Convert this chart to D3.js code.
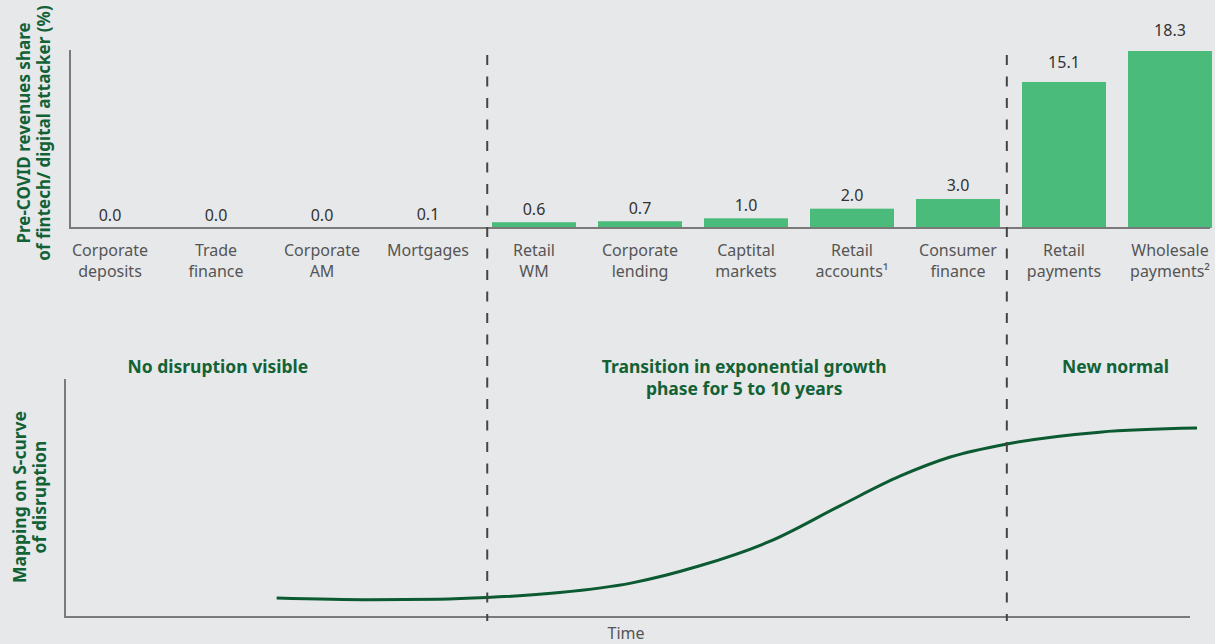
<!DOCTYPE html>
<html>
<head>
<meta charset="utf-8">
<script src="https://cdn.jsdelivr.net/npm/d3@7"></script>
<style>
  body { margin: 0; background: #e7e8ea; }
  svg { display: block; font-family: "Noto Sans", sans-serif; }
</style>
</head>
<body>
<main></main>
<script>
// bar chart: share of revenues per product
const categories = [
    'Corporate\ndeposits', 'Trade\nfinance', 'Corporate\nAM', 'Mortgages',
    'Retail\nWM', 'Corporate\nlending', 'Captital\nmarkets', 'Retail\naccounts\u00b9',
    'Consumer\nfinance', 'Retail\npayments', 'Wholesale\npayments\u00b2'
];
const shares = [0.0, 0.0, 0.0, 0.1, 0.6, 0.7, 1.0, 2.0, 3.0, 15.1, 18.3];

// s-curve (time 0-100, level 0-100)
const timeSteps = [18.7, 27, 33, 37.3, 43.7, 50, 56, 62.3, 68.5, 73.8, 78.2, 83.2, 91.4, 100];
const disruption = [8.0, 7.3, 7.5, 8.2, 10.3, 14.3, 21.5, 32, 47, 59.5, 67.5, 73, 78, 79.7];

const phaseNames = [
    ['No disruption visible'],
    ['Transition in exponential growth', 'phase for 5 to 10 years'],
    ['New normal']
];
const phaseCentres = [13.5, 60, 92.8];
const phaseBreaks = [37.3, 83.2];

const green = '#4bbb7c';
const darkGreen = '#0b5a32';
const titleGreen = '#126236';

const svg = d3.select('main')
    .append('svg')
    .attr('width', 1215)
    .attr('height', 644);

// ---- top chart
const xBand = d3.scaleBand()
    .domain(categories)
    .range([68, 1212])
    .paddingInner(0.2075)
    .paddingOuter(0);

const yShare = d3.scaleLinear()
    .domain([0, 18.3])
    .range([228, 51]);

svg.selectAll('.bar')
    .data(shares)
    .enter()
    .append('rect')
    .attr('class', 'bar')
    .attr('x', (d, i) => xBand(categories[i]))
    .attr('y', (d) => yShare(d))
    .attr('width', xBand.bandwidth())
    .attr('height', (d) => yShare(0) - yShare(d))
    .attr('fill', green);

svg.selectAll('.val')
    .data(shares)
    .enter()
    .append('text')
    .attr('class', 'val')
    .attr('x', (d, i) => xBand(categories[i]) + xBand.bandwidth() / 2)
    .attr('y', (d) => yShare(d) - 7 - d * 0.45)
    .attr('text-anchor', 'middle')
    .attr('font-size', 16)
    .attr('fill', '#333')
    .text((d) => d.toFixed(1));

const catLabels = svg.selectAll('.cat')
    .data(categories)
    .enter()
    .append('text')
    .attr('class', 'cat')
    .attr('text-anchor', 'middle')
    .attr('font-size', 16)
    .attr('fill', '#555');

catLabels.selectAll('tspan')
    .data((d) => d.split('\n').map((t) => ({ t: t, c: d })))
    .enter()
    .append('tspan')
    .attr('x', (d) => xBand(d.c) + xBand.bandwidth() / 2)
    .attr('y', (d, i) => 256 + i * 21)
    .text((d) => d.t);

// axes lines
svg.append('path')
    .attr('d', 'M70,50V228H1210')
    .attr('fill', 'none')
    .attr('stroke', '#7a7a7a')
    .attr('stroke-width', 2);

// ---- bottom chart
const xTime = d3.scaleLinear()
    .domain([0, 100])
    .range([65, 1197]);

const yLevel = d3.scaleLinear()
    .domain([0, 100])
    .range([617, 380]);

svg.append('path')
    .attr('d', `M${xTime(0)},379V${yLevel(0)}H1190`)
    .attr('fill', 'none')
    .attr('stroke', '#7a7a7a')
    .attr('stroke-width', 2);

const line = d3.line()
    .x((d, i) => xTime(timeSteps[i]))
    .y((d) => yLevel(d))
    .curve(d3.curveMonotoneX);

svg.append('path')
    .datum(disruption)
    .attr('d', line)
    .attr('fill', 'none')
    .attr('stroke', darkGreen)
    .attr('stroke-width', 3);

// phase break dashed lines
svg.selectAll('.brk')
    .data(phaseBreaks)
    .enter()
    .append('line')
    .attr('class', 'brk')
    .attr('x1', (d) => xTime(d))
    .attr('x2', (d) => xTime(d))
    .attr('y1', 55)
    .attr('y2', 621)
    .attr('stroke', '#444')
    .attr('stroke-width', 2)
    .attr('stroke-dasharray', '10,11.5');

// phase titles
const phases = svg.selectAll('.phase')
    .data(phaseNames)
    .enter()
    .append('text')
    .attr('class', 'phase')
    .attr('text-anchor', 'middle')
    .attr('font-size', 17.5)
    .attr('font-weight', 700)
    .attr('fill', titleGreen);

phases.selectAll('tspan')
    .data((d, i) => d.map((t) => ({ t: t, i: i })))
    .enter()
    .append('tspan')
    .attr('x', (d) => xTime(phaseCentres[d.i]))
    .attr('y', (d, j) => 373 + j * 22)
    .text((d) => d.t);

svg.append('text')
    .attr('x', 626)
    .attr('y', 639)
    .attr('text-anchor', 'middle')
    .attr('font-size', 16)
    .attr('fill', '#555')
    .text('Time');

// y titles
const yTitle = (lines, cx, cy, size) => {
    const t = svg.append('text')
        .attr('transform', `translate(${cx},${cy}) rotate(-90)`)
        .attr('text-anchor', 'middle')
        .attr('font-size', size)
        .attr('font-weight', 700)
        .attr('fill', titleGreen);
    lines.forEach((l, i) => {
        t.append('tspan')
            .attr('x', 0)
            .attr('y', i * 20)
            .text(l);
    });
};

yTitle(['Pre-COVID revenues share', 'of fintech/ digital attacker (%)'], 30, 133, 17);
yTitle(['Mapping on S-curve', 'of disruption'], 26, 497, 17.5);
</script>
</body>
</html>
